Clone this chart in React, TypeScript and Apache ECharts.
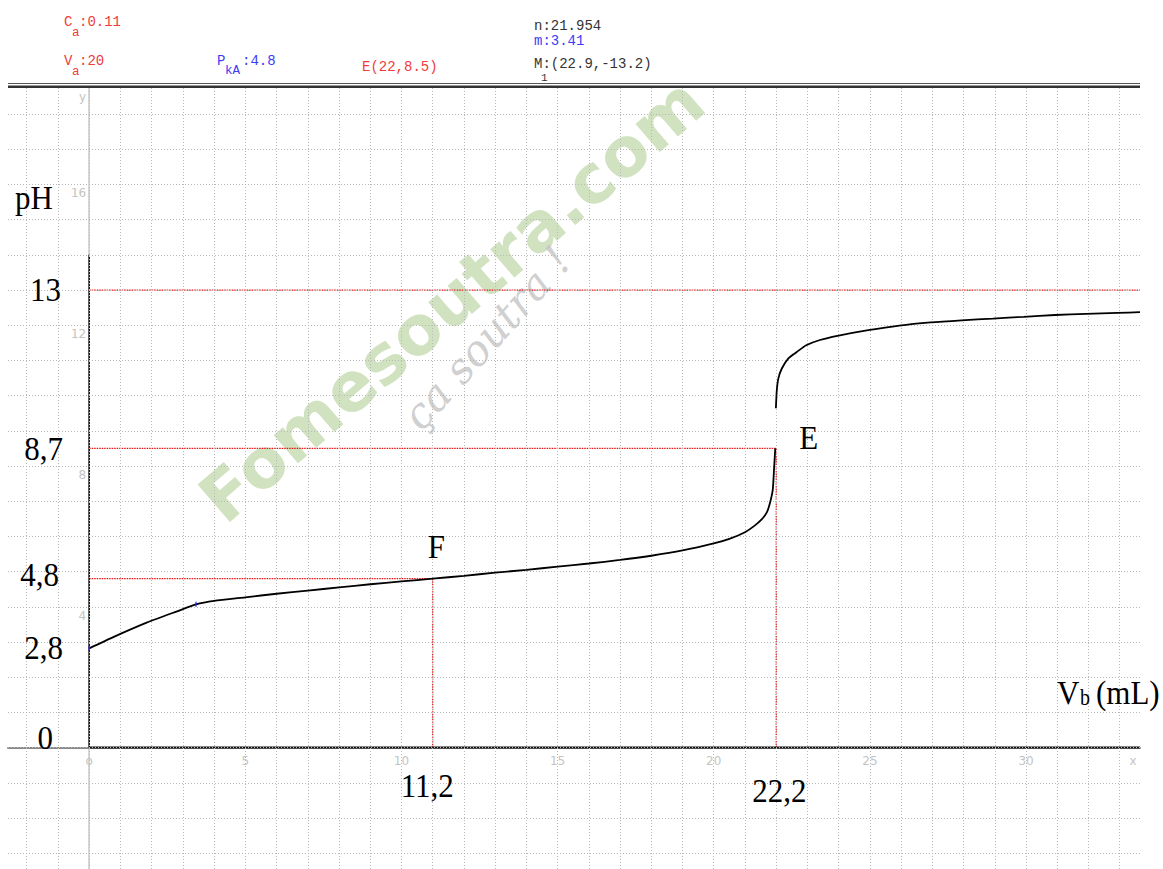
import React, { useEffect, useRef } from "react";
import * as echarts from "echarts";

// ---- data ----
const curveLowV = [0, 0.77, 1.84, 2.9, 3.42, 4, 5, 6, 7, 8, 9, 10, 11, 12, 13, 14, 15, 16, 17, 18, 19, 20, 20.5, 21, 21.3, 21.55, 21.7, 21.8, 21.89, 21.93, 21.97];
const curveLowPH = [2.82, 3.14, 3.55, 3.9, 4.07, 4.17, 4.27, 4.37, 4.46, 4.55, 4.64, 4.72, 4.8, 4.88, 4.97, 5.05, 5.14, 5.23, 5.33, 5.45, 5.6, 5.8, 5.93, 6.12, 6.3, 6.5, 6.68, 6.95, 7.32, 7.9, 8.5];
const curveHighV = [21.99, 22.02, 22.07, 22.18, 22.39, 22.66, 22.96, 23.4, 23.96, 24.95, 25.94, 26.95, 27.94, 28.94, 29.93, 30.93, 31.92, 32.93, 33.65];
const curveHighPH = [9.64, 10.16, 10.49, 10.77, 11.06, 11.24, 11.43, 11.58, 11.7, 11.86, 11.99, 12.08, 12.14, 12.19, 12.24, 12.29, 12.32, 12.35, 12.37];
const blueMarksV = [0, 3.42];
const blueMarksPH = [2.82, 4.07];

const pointF = [11, 4.8];
const pointE = [22, 8.5];
const pHmax = 13;

const xTickValues = [0, 5, 10, 15, 20, 25, 30];
const xTickLabels = ["o", "5", "10", "15", "20", "25", "30"];
const yTickValues = [4, 8, 12, 16];
const yTickLabels = ["4", "8", "12", "16"];

const X_MIN = -2.6;
const X_MAX = 33.65;
const Y_MIN = -3.45;
const Y_MAX = 18.74;

const zip = (a: number[], b: number[]) => a.map((v, i) => [v, b[i]]);

export default function App() {
  const ref = useRef<HTMLDivElement>(null);
  useEffect(() => {
    const chart = echarts.init(ref.current!, null, { renderer: "svg" });

    const gridX: number[] = [];
    for (let v = Math.ceil(X_MIN); v <= Math.floor(X_MAX); v++) gridX.push(v);
    const gridY: number[] = [];
    for (let v = Math.ceil(Y_MIN); v <= Math.floor(Y_MAX); v++) gridY.push(v);

    const gridLine = { color: "#b8b8b8", width: 1, type: [1, 2] as any };
    const red = { color: "#ee1111", width: 1.2, type: [1.5, 1] as any };

    const redSeg = (pts: number[][]) => ({
      type: "line",
      data: pts,
      showSymbol: false,
      lineStyle: red,
      z: 3,
      silent: true,
    });

    chart.setOption({
      animation: false,
      grid: { left: 8, right: 23, top: 88, bottom: 0 },
      xAxis: {
        type: "value",
        min: X_MIN,
        max: X_MAX,
        axisLine: { onZero: true, lineStyle: { color: "#8a8a8a", width: 2 } },
        axisTick: { show: false },
        axisLabel: { show: false },
        splitLine: { show: false },
      },
      yAxis: {
        type: "value",
        min: Y_MIN,
        max: Y_MAX,
        axisLine: { onZero: true, lineStyle: { color: "#c8c8c8", width: 1.5 } },
        axisTick: { show: false },
        axisLabel: { show: false },
        splitLine: { show: false },
      },
      series: [
        {
          type: "line",
          data: [[X_MIN, Y_MIN]],
          showSymbol: false,
          lineStyle: { opacity: 0 },
          silent: true,
          z: 1,
          markLine: {
            silent: true,
            symbol: "none",
            label: { show: false },
            lineStyle: gridLine,
            data: [
              ...gridX.map((v) => ({ xAxis: v })),
              ...gridY.map((v) => ({ yAxis: v })),
            ],
          },
        },
        redSeg([[0, pHmax], [X_MAX, pHmax]]),
        redSeg([[0, pointE[1]], [pointE[0], pointE[1]]]),
        redSeg([[pointE[0], pointE[1]], [pointE[0], 0]]),
        redSeg([[0, pointF[1]], [pointF[0], pointF[1]]]),
        redSeg([[pointF[0], pointF[1]], [pointF[0], 0]]),
        {
          type: "line",
          data: [[0, 0], [0, 14]],
          showSymbol: false,
          lineStyle: { color: "#111", width: 1.6 },
          z: 4,
          silent: true,
        },
        {
          type: "line",
          data: [[0, 0], [X_MAX, 0]],
          showSymbol: false,
          lineStyle: { color: "#111", width: 2 },
          z: 4,
          silent: true,
        },
        {
          type: "line",
          data: zip(curveLowV, curveLowPH),
          showSymbol: false,
          smooth: 0.2,
          lineStyle: { color: "#000", width: 1.8 },
          z: 5,
          silent: true,
        },
        {
          type: "line",
          data: zip(curveHighV, curveHighPH),
          showSymbol: false,
          smooth: 0.2,
          lineStyle: { color: "#000", width: 1.8 },
          z: 5,
          silent: true,
        },
        {
          type: "scatter",
          data: zip(blueMarksV, blueMarksPH),
          symbol: "rect",
          symbolSize: [1.5, 5],
          itemStyle: { color: "#2020ff" },
          z: 6,
          silent: true,
        },
      ],
    });

    const px = (x: number, y: number) => chart.convertToPixel({ gridIndex: 0 }, [x, y]) as number[];

    const serif = "Liberation Serif";
    const mono = "Liberation Mono";
    const RED = "#f03c3c";
    const BLUE = "#3c3cf5";
    const DARK = "#333";

    const T = (
      text: string,
      x: number,
      y: number,
      opts: { size?: number; family?: string; color?: string; align?: string; va?: string; sy?: number; weight?: any; style?: string; rot?: number; opacity?: number; z?: number } = {}
    ) => ({
      type: "text",
      x,
      y,
      rotation: opts.rot || 0,
      scaleY: opts.sy || 1,
      z: opts.z ?? 10,
      silent: true,
      style: {
        text,
        fill: opts.color || "#000",
        fontSize: opts.size || 31,
        fontFamily: opts.family || serif,
        fontWeight: opts.weight || "normal",
        fontStyle: opts.style || "normal",
        align: opts.align || "left",
        textAlign: opts.align || "left",
        verticalAlign: opts.va || "middle",
        textVerticalAlign: opts.va || "middle",
        opacity: opts.opacity ?? 1,
      },
    });

    const big = { size: 31, sy: 1.12 };
    const gray = { size: 12, family: "DejaVu Sans", color: "#c4c4c4", align: "center" };
    const m = { size: 14, family: mono };
    const ms = { size: 12.5, family: mono };

    const p0 = px(0, 0);
    const pF = px(pointF[0], pointF[1]);
    const pE = px(pointE[0], pointE[1]);
    const p13 = px(0, pHmax);
    const p28 = px(0, curveLowPH[0]);

    const graphics: any[] = [
      // top double rule
      { type: "rect", shape: { x: 8, y: 83, width: 1132, height: 1 }, style: { fill: "#555" }, z: 10, silent: true },
      { type: "rect", shape: { x: 8, y: 85.5, width: 1132, height: 2.5 }, style: { fill: "#333" }, z: 10, silent: true },
      // watermark
      T("Fomesoutra.com", 452, 300, { size: 68, family: "DejaVu Sans", weight: 900, color: "#aacb8a", rot: 0.71, opacity: 0.55, align: "center", z: 2 }),
      T("ça soutra !", 487, 338, { size: 42, family: "DejaVu Serif", style: "italic", color: "#c4c4c4", rot: 0.84, opacity: 0.8, align: "center", z: 2 }),
      // top annotations
      T("C", 64, 22, { ...m, color: RED }),
      T("a", 72, 33, { ...ms, color: RED }),
      T(":0.11", 79, 22, { ...m, color: RED }),
      T("V", 64, 61, { ...m, color: RED }),
      T("a", 72, 72, { ...ms, color: RED }),
      T(":20", 79, 61, { ...m, color: RED }),
      T("P", 217, 61, { ...m, color: BLUE }),
      T("kA", 225, 71, { ...ms, color: BLUE }),
      T(":4.8", 242, 61, { ...m, color: BLUE }),
      T("E(22,8.5)", 362, 67, { ...m, color: RED }),
      T("n:21.954", 534, 26, { ...m, color: DARK }),
      T("m:3.41", 534, 41, { ...m, color: BLUE }),
      T("M:(22.9,-13.2)", 534, 64, { ...m, color: DARK }),
      T("1", 541, 78, { ...ms, size: 11, color: DARK }),
      // gray axis labels
      ...xTickValues.map((v, i) => T(xTickLabels[i], px(v, 0)[0], p0[1] + 13, gray)),
      T("x", px(33.43, 0)[0], p0[1] + 13, gray),
      ...yTickValues.map((v, i) => T(yTickLabels[i], p0[0] - 3, px(0, v)[1] + 9, { ...gray, align: "right" })),
      T("y", p0[0] - 3, 97, { ...gray, align: "right" }),
      // big serif labels
      T("pH", 15, 197, big),
      T("13", 61, p13[1] - 1, { ...big, align: "right" }),
      T("8,7", 63, pE[1], { ...big, align: "right" }),
      T("4,8", 59, pF[1] - 4, { ...big, align: "right" }),
      T("2,8", 63, p28[1] - 1, { ...big, align: "right" }),
      T("0", 53, p0[1] - 10, { ...big, align: "right" }),
      T("11,2", pF[0] - 32, p0[1] + 38, big),
      T("22,2", pE[0] - 24, p0[1] + 43, big),
      T("F", pF[0] - 5, pF[1] - 32, big),
      T("E", pE[0] + 23, pE[1] - 11, big),
      T("V", 1057, 692, big),
      T("b", 1080, 698, { size: 20, sy: 1.12 }),
      T("(mL)", 1096, 692, big),
    ];

    chart.setOption({ graphic: { elements: graphics } });

    return () => chart.dispose();
  }, []);
  return <div ref={ref} style={{ position: "absolute", left: 0, top: 0, width: 1163, height: 869 }} />;
}
